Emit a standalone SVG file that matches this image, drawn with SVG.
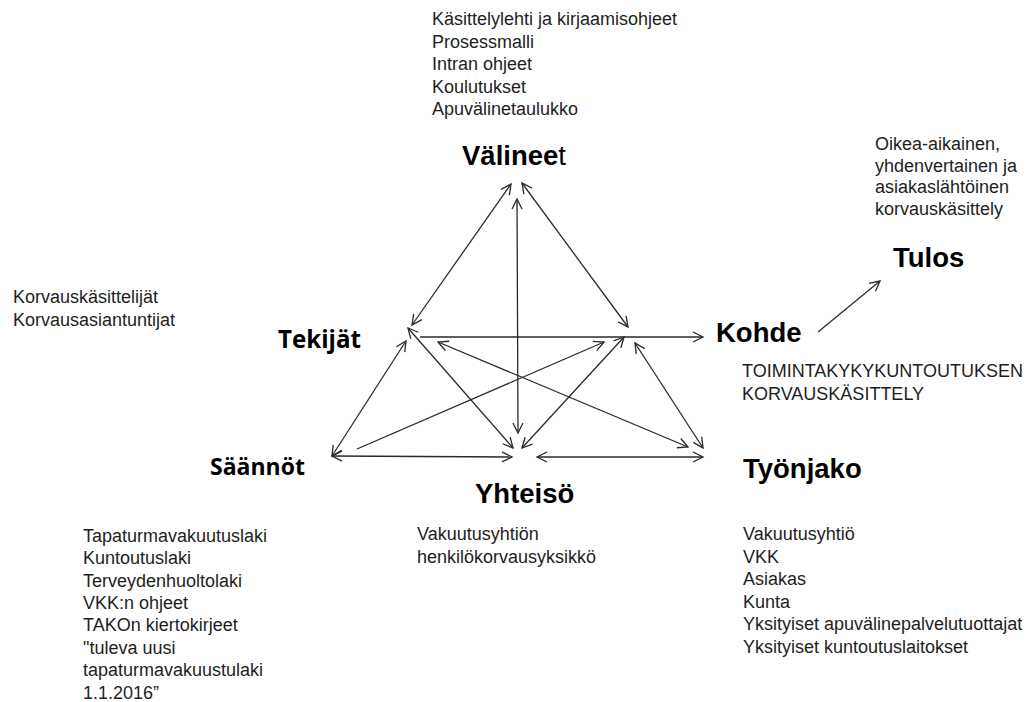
<svg xmlns="http://www.w3.org/2000/svg" width="1036" height="702" viewBox="0 0 1036 702">
<style>
.t{font-family:"Liberation Sans",Arial,sans-serif;font-size:18px;fill:#1e1e1e}
.h{font-family:"Liberation Sans",Arial,sans-serif;font-size:27.5px;font-weight:bold;fill:#000}
.hv{font-family:"Open Sans","DejaVu Sans",sans-serif;font-weight:bold;fill:#000}
.c line{stroke:#2a2a2a;stroke-width:1.3;fill:none}
</style>
<defs>
<marker id="ah" viewBox="-12 -7 14 14" markerWidth="14" markerHeight="14" refX="0" refY="0" orient="auto-start-reverse" markerUnits="userSpaceOnUse">
<path d="M-10,-5 L0,0 L-10,5" fill="none" stroke="#2a2a2a" stroke-width="1.3"/>
</marker>
</defs>
<rect width="1036" height="702" fill="#fff"/>

<g class="c" id="connectors">
<line x1="412" y1="325" x2="511" y2="184" marker-start="url(#ah)" marker-end="url(#ah)"/>
<line x1="522" y1="183" x2="628" y2="327" marker-start="url(#ah)" marker-end="url(#ah)"/>
<line x1="517" y1="199" x2="518" y2="433" marker-start="url(#ah)" marker-end="url(#ah)"/>
<line x1="420" y1="337" x2="703" y2="337" marker-end="url(#ah)"/>
<line x1="408" y1="328" x2="513" y2="448" marker-start="url(#ah)" marker-end="url(#ah)"/>
<line x1="406" y1="341" x2="332" y2="456" marker-start="url(#ah)" marker-end="url(#ah)"/>
<line x1="357" y1="449" x2="604" y2="342" marker-end="url(#ah)"/>
<line x1="438" y1="342" x2="688" y2="447" marker-start="url(#ah)" marker-end="url(#ah)"/>
<line x1="332" y1="456" x2="512" y2="457" marker-start="url(#ah)" marker-end="url(#ah)"/>
<line x1="624" y1="337" x2="522" y2="448" marker-start="url(#ah)" marker-end="url(#ah)"/>
<line x1="635" y1="343" x2="703" y2="448" marker-start="url(#ah)" marker-end="url(#ah)"/>
<line x1="537" y1="457" x2="703" y2="457" marker-start="url(#ah)" marker-end="url(#ah)"/>
<line x1="818" y1="332" x2="880" y2="281" marker-end="url(#ah)"/>
</g>

<g id="valineet">
<text class="t" x="432"><tspan x="432" y="25">Käsittelylehti  ja kirjaamisohjeet</tspan><tspan x="432" y="47.5">Prosessmalli</tspan><tspan x="432" y="70">Intran  ohjeet</tspan><tspan x="432" y="92.5">Koulutukset</tspan><tspan x="432" y="115">Apuvälinetaulukko</tspan></text>
<text class="h" x="462" y="165">Välinee<tspan font-weight="normal">t</tspan></text>
</g>

<g id="tulos">
<text class="t"><tspan x="875" y="150">Oikea-aikainen,</tspan><tspan x="875" y="171.7">yhdenvertainen  ja</tspan><tspan x="875" y="193.3">asiakaslähtöinen</tspan><tspan x="875" y="215">korvauskäsittely</tspan></text>
<text class="h" x="893" y="267">Tulos</text>
</g>

<g id="kohde">
<text class="h" x="716" y="342">Kohde</text>
<text class="t"><tspan x="742" y="377">TOIMINTAKYKYKUNTOUTUKSEN</tspan><tspan x="742" y="400">KORVAUSKÄSITTELY</tspan></text>
</g>

<g id="tekijat">
<text class="t"><tspan x="13" y="303">Korvauskäsittelijät</tspan><tspan x="13" y="326">Korvausasiantuntijat</tspan></text>
<text class="hv" x="278" y="348" font-size="25" textLength="83" lengthAdjust="spacingAndGlyphs">Tekijät</text>
</g>

<g id="saannot">
<text class="hv" x="210" y="475" font-size="23" textLength="95" lengthAdjust="spacingAndGlyphs">Säännöt</text>
<text class="t"><tspan x="83" y="541.7">Tapaturmavakuutuslaki</tspan><tspan x="83" y="564.1">Kuntoutuslaki</tspan><tspan x="83" y="586.5">Terveydenhuoltolaki</tspan><tspan x="83" y="608.9">VKK:n ohjeet</tspan><tspan x="83" y="631.3">TAKOn  kiertokirjeet</tspan><tspan x="83" y="653.7">"tuleva  uusi</tspan><tspan x="83" y="676.1">tapaturmavakuustulaki</tspan><tspan x="83" y="698.5">1.1.2016”</tspan></text>
</g>

<g id="yhteiso">
<text class="h" x="475" y="503">Yhteisö</text>
<text class="t"><tspan x="417" y="540">Vakuutusyhtiön</tspan><tspan x="417" y="563">henkilökorvausyksikkö</tspan></text>
</g>

<g id="tyonjako">
<text class="h" x="743" y="478">Työnjako</text>
<text class="t"><tspan x="743" y="540">Vakuutusyhtiö</tspan><tspan x="743" y="562.6">VKK</tspan><tspan x="743" y="585.2">Asiakas</tspan><tspan x="743" y="607.8">Kunta</tspan><tspan x="743" y="630.4">Yksityiset  apuvälinepalvelutuottajat</tspan><tspan x="743" y="653">Yksityiset  kuntoutuslaitokset</tspan></text>
</g>
</svg>
